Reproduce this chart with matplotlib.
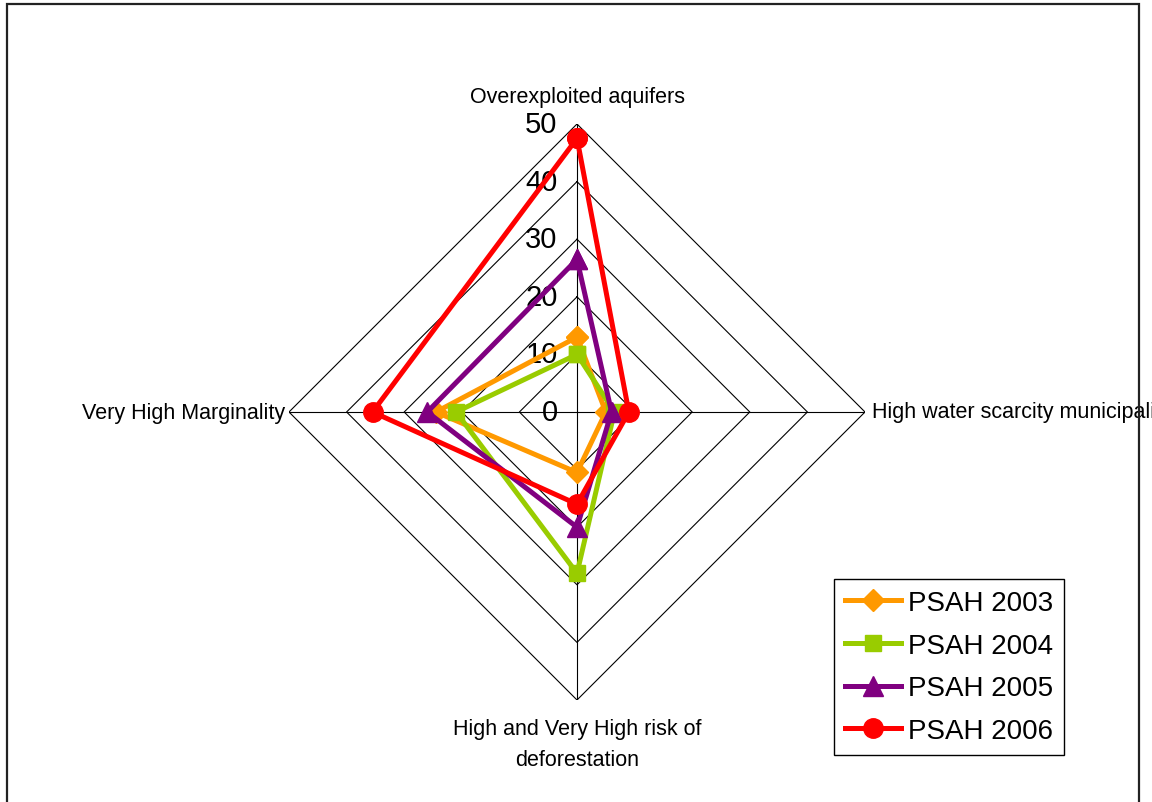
import matplotlib.pyplot as plt
import numpy as np
from matplotlib.patches import Rectangle

plt.rcParams["font.family"] = ["Liberation Sans", "DejaVu Sans"]

# Chart data
categories = [
    "Overexploited aquifers",
    "High water scarcity municipalities",
    "High and Very High risk of\ndeforestation",
    "Very High Marginality",
]
psah_2003 = [13, 5, 10.5, 24.5]
psah_2004 = [10, 6.5, 28, 21]
psah_2005 = [26.5, 6, 20, 26]
psah_2006 = [47.5, 9, 16, 35.5]
series_names = ["PSAH 2003", "PSAH 2004", "PSAH 2005", "PSAH 2006"]
levels = [10, 20, 30, 40, 50]
level_labels = ["0", "10", "20", "30", "40", "50"]

colors = ["#FF9900", "#99CC00", "#800080", "#FF0000"]
markers = ["D", "s", "^", "o"]
msizes = [11, 11, 14, 14]

W, H = 1152, 803
fig = plt.figure(figsize=(W / 100, H / 100), dpi=100)

# outer frame (open at the bottom edge of the picture)
frame = Rectangle((7 / W, -0.02), (1139 - 7) / W, 1 - 5 / H + 0.02,
                  transform=fig.transFigure, fill=False, edgecolor="#222222", linewidth=1.6)
fig.add_artist(frame)

# polar axes centred at (577, 413) px with radius 288 px
cx, cy, rad = 577, 413, 288
ax = fig.add_axes([(cx - rad) / W, (H - cy - rad) / H, 2 * rad / W, 2 * rad / H],
                  projection="polar")
ax.set_theta_zero_location("N")
ax.set_theta_direction(-1)
ax.set_ylim(0, 50)
ax.grid(False)
ax.spines["polar"].set_visible(False)
ax.set_xticks([])
ax.set_yticks([])
ax.patch.set_alpha(0)

angles = list(np.linspace(0, 2 * np.pi, len(categories), endpoint=False))
closed = angles + [angles[0]]

# diamond grid and spokes
for lv in levels:
    ax.plot(closed, [lv] * len(closed), color="black", linewidth=0.8, zorder=1)
for a in angles:
    ax.plot([a, a], [0, 50], color="black", linewidth=0.8, zorder=1)

# radial value labels
for i, txt in enumerate(level_labels):
    ax.annotate(txt, xy=(0, i * 10), xytext=(-14, 0), textcoords="offset points",
                ha="right", va="center", fontsize=21)

# series
all_series = [psah_2003, psah_2004, psah_2005, psah_2006]
for vals, name, c, m, ms in zip(all_series, series_names, colors, markers, msizes):
    ax.plot(closed, vals + [vals[0]], color=c, linewidth=3.6, marker=m,
            markersize=ms, label=name, zorder=3, clip_on=False)

# category labels
ax.annotate(categories[0], xy=(angles[0], 50), xytext=(0, 20), textcoords="offset points",
            ha="center", va="center", fontsize=15.5)
ax.annotate(categories[1], xy=(angles[1], 50), xytext=(5, 0),
            textcoords="offset points", ha="left", va="center", fontsize=15.5)
ax.annotate(categories[2], xy=(angles[2], 50), xytext=(0, -13), textcoords="offset points",
            ha="center", va="top", fontsize=15.5, linespacing=1.6)
ax.annotate(categories[3], xy=(angles[3], 50), xytext=(-3, 0), textcoords="offset points",
            ha="right", va="center", fontsize=15.5)

fig.legend(loc="upper left", bbox_to_anchor=(834 / W, 1 - 580 / H), borderaxespad=0,
           fancybox=False, edgecolor="black", framealpha=1, fontsize=20,
           handlelength=2.0, handletextpad=0.25, borderpad=0.4, labelspacing=0.6)

fig.savefig("out.png", dpi=100)
